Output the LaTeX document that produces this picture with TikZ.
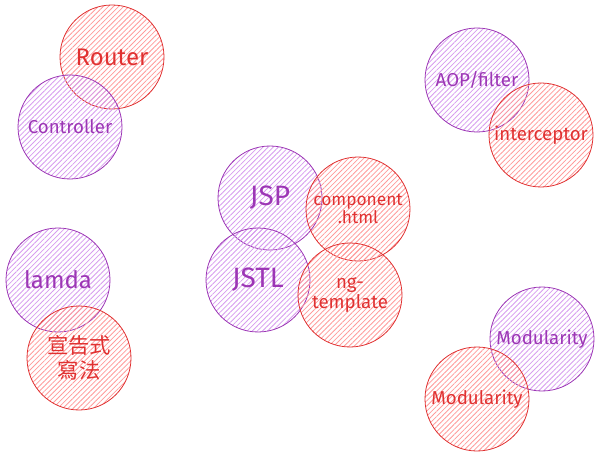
\documentclass[tikz,border=0pt]{standalone}
\usepackage{fontspec}
\setmainfont{Fira Sans}
\newfontfamily\cjkfont{Noto Sans CJK TC}
\usetikzlibrary{patterns.meta}
\definecolor{redline}{HTML}{E03131}
\definecolor{redhatch}{HTML}{FF9A9A}
\definecolor{purpleline}{HTML}{9C36B5}
\definecolor{purplehatch}{HTML}{D69CEE}
\tikzset{
	blob/.style={circle,minimum size=78pt,inner sep=0pt,line width=0.6pt,align=center,
		font=\fontsize{14}{16}\selectfont},
	redblob/.style={blob,draw=redline,text=redline,
		pattern={Lines[angle=45,distance=2.7pt,line width=0.6pt]},pattern color=redhatch},
	purpleblob/.style={blob,draw=purpleline,text=purpleline,
		pattern={Lines[angle=45,distance=2.7pt,line width=0.6pt]},pattern color=purplehatch},
	bigtext/.style={font=\fontsize{18}{20}\selectfont},
	hugetext/.style={font=\fontsize{21}{23}\selectfont}
}
\begin{document}
\begin{tikzpicture}[x=0.75pt,y=-0.75pt]
	\useasboundingbox (0,0) rectangle (600,456);
	\node[redblob,bigtext] (router) at (112,57) {Router};
	\node[purpleblob] (controller) at (70,127) {Controller};
	\node[purpleblob,hugetext] (jsp) at (270,198) {JSP};
	\node[redblob,font=\fontsize{13}{14}\selectfont] (component) at (358,209) {component\\.html};
	\node[purpleblob,hugetext] (jstl) at (258,280) {JSTL};
	\node[redblob,font=\fontsize{14}{15}\selectfont] (ngtemplate) at (350,295) {ng-\\template};
	\node[purpleblob,bigtext] (lamda) at (58,280) {lamda};
	\node[redblob,font=\cjkfont\fontsize{16}{19}\selectfont] (declarative) at (79,358) {宣告式\\寫法};
	\node[purpleblob] (aop) at (477,80) {AOP/filter};
	\node[redblob] (interceptor) at (541,135) {interceptor};
	\node[purpleblob] (modpurple) at (542,339) {Modularity};
	\node[redblob] (modred) at (477,399) {Modularity};
\end{tikzpicture}
\end{document}
